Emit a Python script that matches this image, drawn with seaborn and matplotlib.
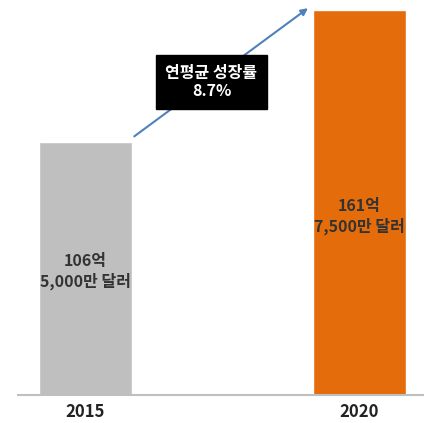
import matplotlib
matplotlib.use("Agg")
import matplotlib.pyplot as plt
import seaborn as sns
import pandas as pd

years = ["2015", "2020"]
values = [106.5, 161.75]
bar_labels = ["106억\n5,000만 달러", "161억\n7,500만 달러"]
growth_label = "연평균 성장률\n8.7%"
colors = ["#BFBFBF", "#E46C0A"]

sns.set_theme(style="white")
plt.rcParams['font.family'] = ['Noto Sans CJK KR', 'DejaVu Sans']

fig = plt.figure(figsize=(4.24, 4.23), dpi=100)
ax = fig.add_axes([18/424, 28/423, 406/424, 395/423])

df = pd.DataFrame({"year": years, "value": values})
sns.barplot(data=df, x="year", y="value", hue="year", palette=colors,
            width=0.34, legend=False, ax=ax, saturation=1)

ax.set_xlim(-0.246, 1.235)
ax.set_ylim(0, 166)
for s in ["top", "right", "left"]:
    ax.spines[s].set_visible(False)
ax.spines["bottom"].set_color("#BFBFBF")
ax.spines["bottom"].set_linewidth(1.5)
ax.set_yticks([])
ax.set_xlabel("")
ax.set_ylabel("")
ax.tick_params(axis="x", length=0, pad=6)
for t in ax.get_xticklabels():
    t.set_fontsize(12)
    t.set_fontweight("bold")
    t.set_color("#222222")

# bar labels
ax.text(0, 52, bar_labels[0], ha="center", va="center", fontsize=11.5,
        fontweight="bold", color="#333333", linespacing=1.25)
ax.text(1, 75, bar_labels[1], ha="center", va="center", fontsize=11.5,
        fontweight="bold", color="#333333", linespacing=1.25)

# growth arrow
x0 = 0 + 0.34/2
x1 = 1 - 0.34/2 - 0.01
ax.annotate("", xy=(x1, values[1] + 1.5), xytext=(x0, values[0] + 1.5),
            arrowprops=dict(arrowstyle="-|>", color="#4F81BD", lw=1.5,
                            mutation_scale=10))
ax.text(0.46, 131.5, growth_label, ha="center", va="center",
        fontsize=11.5, fontweight="bold", color="white", linespacing=1.2,
        bbox=dict(boxstyle="square,pad=0.6", fc="black", ec="black"))

fig.savefig("out.png", dpi=100)
